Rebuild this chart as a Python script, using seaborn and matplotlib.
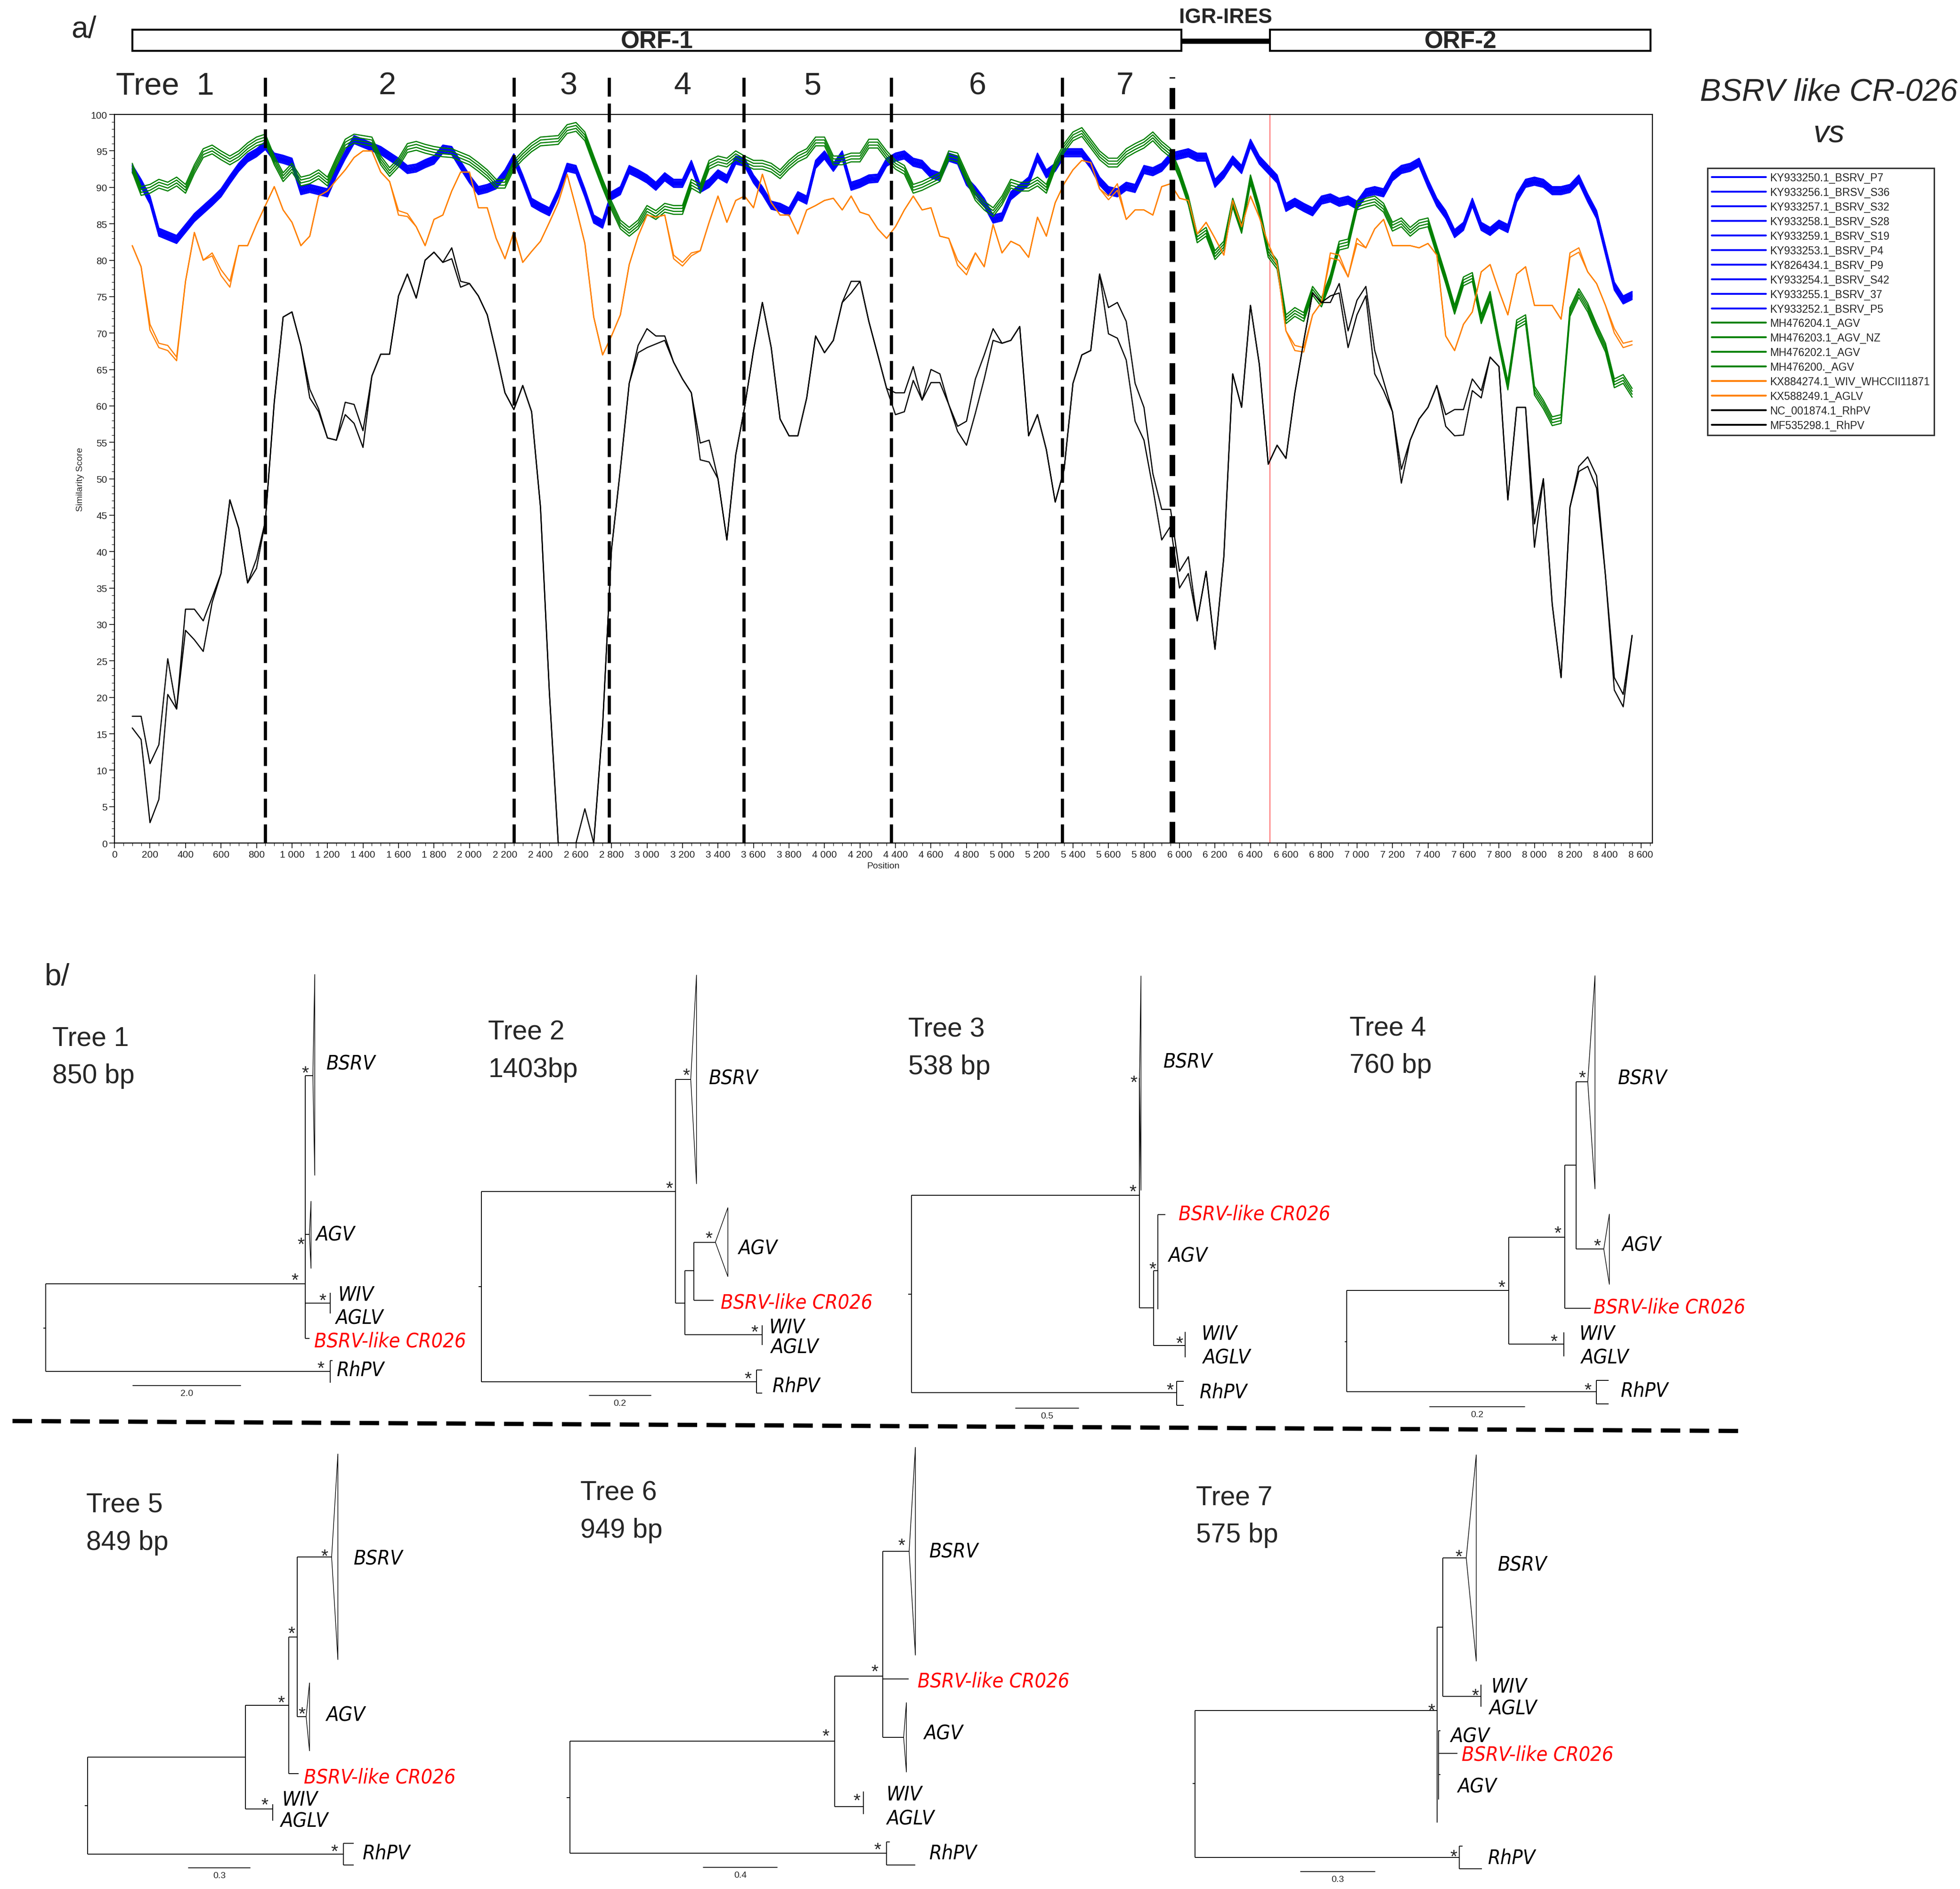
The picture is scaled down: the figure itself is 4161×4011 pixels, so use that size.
import numpy as np
import pandas as pd
import matplotlib
matplotlib.use("Agg")
import matplotlib.pyplot as plt
import matplotlib.transforms as mtransforms
from matplotlib.patches import Rectangle, Polygon
from matplotlib.lines import Line2D
import seaborn as sns

sns.set_style("white")
NARROW = ['Liberation Sans Narrow', 'Liberation Sans', 'DejaVu Sans']
plt.rcParams['font.family'] = NARROW

# layout grid: a 1568 x 1512 preview of the figure
W, H = 1568.0, 1512.0


def fx(x):
    return x / W


def fy(y):
    return 1 - y / H


# ---------------- panel a data ----------------
positions = list(range(100, 8551, 50))

blue_bsrv = [
    92.5, 90.5, 88.2, 83.8, 83.3, 82.8, 84.3, 85.8, 86.9, 88.0,
    89.2, 91.0, 92.7, 94.0, 94.7, 95.7, 94.1, 93.8, 93.4, 89.5,
    89.8, 89.5, 89.2, 92.0, 94.4, 96.5, 96.0, 95.5, 95.0, 94.2,
    93.4, 92.4, 92.6, 93.2, 93.7, 95.2, 95.0, 93.0, 91.1, 89.5,
    89.8, 90.3, 91.8, 94.0, 91.1, 87.9, 87.2, 86.6, 89.2, 92.7,
    92.4, 89.2, 85.6, 84.9, 88.8, 89.5, 92.4, 91.8, 91.1, 90.1,
    91.4, 90.5, 90.5, 93.1, 89.8, 90.5, 91.8, 91.1, 93.7, 93.4,
    91.1, 89.5, 87.5, 87.2, 86.6, 88.8, 88.2, 93.1, 94.4, 92.7,
    94.4, 90.1, 90.5, 91.1, 91.2, 93.4, 94.1, 94.4, 93.4, 93.1,
    91.8, 91.4, 94.1, 93.7, 90.8, 89.5, 87.9, 85.6, 85.9, 88.8,
    89.8, 90.8, 94.1, 91.8, 92.7, 94.7, 94.7, 94.7, 93.1, 90.8,
    89.5, 89.2, 90.1, 89.8, 92.4, 92.1, 92.7, 94.1, 94.4, 94.7,
    94.1, 94.1, 90.5, 91.8, 93.7, 92.4, 96.0, 93.7, 92.4, 91.1,
    87.2, 87.9, 87.2, 86.6, 88.2, 88.5, 87.9, 88.2, 87.5, 89.2,
    89.5, 89.2, 91.4, 92.4, 92.7, 93.4, 90.5, 87.9, 86.2, 83.6,
    84.6, 87.9, 84.6, 83.9, 84.9, 84.3, 88.5, 90.5, 90.8, 90.5,
    89.5, 89.5, 89.8, 91.1, 88.5, 86.2, 81.3, 76.4, 74.5, 75.1,
]
blue_spread = [0.5, 0.35, 0.2, 0.1, 0.0, -0.1, -0.2, -0.35, 0.6, -0.5]

green_agv = [
    92.7, 89.5, 89.8, 90.5, 90.1, 90.8, 89.8, 92.5, 94.7, 95.2,
    94.4, 93.7, 94.4, 95.5, 96.3, 96.7, 93.7, 91.4, 92.7, 90.8,
    91.1, 91.8, 90.8, 93.5, 96.0, 96.7, 96.5, 96.3, 93.7, 92.1,
    93.4, 95.4, 95.7, 95.3, 95.0, 94.8, 94.7, 94.2, 93.7, 92.8,
    91.8, 90.5, 90.5, 93.1, 94.4, 95.5, 96.3, 96.4, 96.5, 98.0,
    98.3, 97.0, 93.7, 90.5, 87.5, 84.9, 83.9, 84.9, 86.9, 86.2,
    87.2, 86.9, 86.9, 90.5, 89.8, 93.1, 93.7, 93.4, 94.4, 93.7,
    93.1, 93.1, 92.7, 91.8, 93.1, 94.1, 94.7, 96.3, 96.3, 93.7,
    93.7, 94.1, 94.1, 96.0, 96.0, 94.4, 93.1, 92.4, 89.8, 90.2,
    90.8, 91.4, 94.4, 94.1, 91.4, 88.8, 87.5, 86.6, 88.2, 90.5,
    90.1, 90.1, 90.8, 89.8, 93.1, 95.4, 97.0, 97.6, 96.0, 94.4,
    93.4, 93.4, 94.7, 95.4, 96.0, 97.0, 95.7, 94.7, 91.8, 88.2,
    83.0, 83.9, 80.7, 82.0, 87.9, 84.3, 91.1, 86.9, 81.0, 79.4,
    71.9, 72.9, 72.2, 75.8, 74.2, 77.4, 82.0, 82.3, 87.5, 87.9,
    88.2, 87.2, 84.6, 85.2, 83.9, 84.9, 85.2, 81.3, 77.4, 73.2,
    77.1, 77.7, 71.9, 75.1, 68.6, 62.8, 71.2, 71.9, 62.1, 60.2,
    57.9, 58.2, 72.9, 75.5, 73.5, 70.6, 68.0, 63.1, 63.7, 61.8,
]
green_spread = [0.6, 0.2, -0.2, -0.6]

orange_wiv = [
    82.0, 79.1, 71.2, 68.6, 68.3, 66.7, 77.1, 83.8, 80.0, 81.0,
    78.7, 77.1, 82.0, 82.0, 84.9, 87.5, 90.1, 86.9, 85.2, 82.0,
    83.3, 88.8, 89.5, 91.0, 92.4, 94.1, 95.0, 95.0, 92.1, 90.8,
    86.2, 86.0, 84.6, 82.0, 85.6, 86.2, 89.5, 92.1, 92.1, 87.2,
    87.2, 83.0, 80.2, 83.9, 79.7, 81.2, 82.6, 85.2, 87.9, 91.8,
    87.2, 82.3, 72.2, 67.0, 69.6, 72.5, 79.4, 83.3, 86.2, 85.9,
    86.2, 80.7, 79.7, 81.0, 81.3, 85.2, 88.8, 85.2, 88.2, 88.8,
    87.2, 91.8, 87.9, 86.2, 86.2, 83.6, 86.9, 87.5, 88.2, 88.5,
    86.9, 88.8, 86.6, 86.2, 84.3, 83.0, 84.6, 86.9, 88.8, 86.9,
    87.2, 83.3, 83.0, 80.0, 78.7, 81.0, 79.1, 84.9, 81.0, 82.6,
    82.0, 80.4, 85.9, 83.3, 87.9, 90.5, 92.4, 93.7, 93.4, 89.8,
    88.8, 90.5, 85.6, 86.9, 86.9, 86.2, 90.1, 90.5, 88.5, 88.2,
    83.6, 85.2, 83.0, 80.7, 88.2, 84.6, 88.8, 85.9, 82.3, 79.4,
    70.3, 68.3, 68.0, 72.5, 74.2, 81.0, 80.7, 77.7, 83.0, 81.7,
    84.3, 85.6, 82.0, 82.0, 82.0, 81.7, 82.3, 80.7, 69.6, 67.6,
    71.2, 72.9, 78.4, 79.4, 75.8, 72.5, 78.1, 79.1, 73.8, 73.8,
    73.8, 71.9, 81.0, 81.7, 78.4, 76.8, 73.8, 70.6, 68.6, 68.9,
]
orange_aglv = [
    82.0, 79.1, 70.4, 68.0, 67.6, 66.2, 77.1, 83.8, 80.0, 80.6,
    77.9, 76.3, 82.0, 82.0, 84.9, 87.5, 90.1, 86.9, 85.2, 82.0,
    83.3, 88.8, 89.5, 91.0, 92.4, 94.1, 95.0, 95.0, 92.1, 90.8,
    86.8, 86.4, 84.6, 82.0, 85.6, 86.2, 89.5, 92.1, 92.1, 87.2,
    87.2, 83.0, 80.2, 83.9, 79.7, 81.2, 82.6, 85.2, 87.9, 91.8,
    87.2, 82.3, 72.2, 67.0, 69.6, 72.5, 79.4, 83.3, 86.2, 85.9,
    86.2, 80.2, 79.2, 80.6, 81.3, 85.2, 88.8, 85.2, 88.2, 88.8,
    87.2, 91.8, 87.9, 86.2, 86.2, 83.6, 86.9, 87.5, 88.2, 88.5,
    86.9, 88.8, 86.6, 86.2, 84.3, 83.0, 84.6, 86.9, 88.8, 86.9,
    87.2, 83.3, 83.0, 79.3, 78.0, 81.0, 79.1, 84.9, 81.0, 82.6,
    82.0, 80.4, 85.9, 83.3, 87.9, 90.5, 92.4, 93.7, 93.4, 89.8,
    88.3, 89.6, 85.6, 86.9, 86.9, 86.2, 90.1, 90.5, 88.5, 88.2,
    83.6, 85.2, 83.0, 80.7, 88.2, 84.6, 88.8, 85.9, 82.3, 79.4,
    70.3, 67.6, 67.4, 72.5, 74.2, 80.3, 80.0, 77.7, 82.3, 81.7,
    84.3, 85.6, 82.0, 82.0, 82.0, 81.7, 82.3, 80.7, 69.6, 67.6,
    71.2, 72.9, 78.4, 79.4, 75.8, 72.5, 78.1, 79.1, 73.8, 73.8,
    73.8, 71.9, 80.4, 81.1, 78.4, 76.8, 73.8, 70.0, 68.0, 68.4,
]

black_nc = [
    17.4, 17.4, 10.9, 13.5, 25.3, 18.4, 32.1, 32.1, 30.5, 33.7,
    37.0, 47.1, 43.2, 35.7, 39.0, 44.2, 60.5, 72.2, 72.9, 68.3,
    61.1, 59.2, 55.6, 55.3, 60.5, 60.2, 56.6, 64.1, 67.1, 67.1,
    75.1, 78.1, 74.8, 80.0, 81.1, 79.7, 81.7, 77.1, 76.8, 75.1,
    72.5, 67.3, 61.8, 59.5, 62.8, 59.2, 46.1, 20.7, 0.0, 0.0,
    0.0, 4.7, 0.0, 16.1, 40.3, 51.3, 63.1, 68.3, 70.6, 69.6,
    69.6, 66.0, 63.7, 61.8, 54.9, 55.3, 50.0, 41.6, 53.3, 59.8,
    67.6, 74.2, 68.0, 58.2, 55.9, 55.9, 61.1, 69.6, 67.3, 69.0,
    74.2, 77.1, 77.1, 71.6, 67.0, 62.4, 61.8, 61.8, 65.4, 60.8,
    65.0, 64.4, 60.2, 57.2, 57.9, 63.7, 67.0, 70.6, 68.6, 69.0,
    70.9, 55.9, 58.8, 54.0, 46.8, 51.3, 63.1, 67.0, 67.6, 78.1,
    73.5, 74.2, 71.6, 63.1, 59.8, 50.7, 45.8, 45.8, 37.3, 39.3,
    30.5, 37.3, 26.6, 39.3, 64.4, 59.8, 73.8, 65.7, 52.0, 54.6,
    52.8, 61.8, 68.9, 75.5, 74.2, 74.2, 76.8, 70.3, 74.5, 76.4,
    67.6, 63.4, 59.2, 51.3, 55.3, 58.2, 59.8, 62.8, 58.8, 59.5,
    59.5, 63.7, 62.1, 66.7, 65.4, 47.1, 59.8, 59.8, 43.8, 50.0,
    32.8, 22.7, 46.1, 51.7, 53.0, 50.4, 36.7, 22.7, 20.4, 28.5,
]
black_mf = [
    15.8, 14.2, 2.8, 6.0, 20.4, 18.4, 29.2, 27.9, 26.3, 33.0,
    37.0, 47.1, 43.2, 35.7, 37.7, 44.2, 60.5, 72.2, 72.9, 68.3,
    62.3, 59.6, 55.6, 55.3, 58.8, 57.6, 54.3, 64.1, 67.1, 67.1,
    75.1, 78.1, 74.8, 80.0, 81.1, 79.7, 80.2, 76.3, 76.8, 75.1,
    72.5, 67.3, 61.8, 59.5, 62.8, 59.2, 46.1, 20.7, 0.0, 0.0,
    0.0, 0.0, 0.0, 16.1, 40.3, 51.3, 63.1, 67.3, 68.0, 68.5,
    69.0, 66.0, 63.7, 61.8, 52.6, 52.3, 50.0, 41.6, 53.3, 59.8,
    67.6, 74.2, 68.0, 58.2, 55.9, 55.9, 61.1, 69.6, 67.3, 69.0,
    74.2, 75.5, 77.1, 71.6, 67.0, 62.4, 58.8, 59.2, 63.5, 60.8,
    63.2, 63.2, 60.2, 56.5, 54.6, 59.0, 63.7, 69.0, 68.6, 69.0,
    70.9, 55.9, 58.8, 54.0, 46.8, 51.3, 63.1, 67.0, 67.6, 78.1,
    69.9, 69.3, 66.3, 57.9, 55.3, 48.7, 41.6, 43.5, 35.0, 37.0,
    30.5, 37.3, 26.6, 39.3, 64.4, 59.8, 73.8, 65.7, 52.0, 54.6,
    52.8, 61.8, 68.9, 75.5, 74.2, 75.1, 75.5, 68.0, 72.5, 75.1,
    64.4, 62.1, 59.2, 49.4, 55.3, 58.2, 59.8, 62.8, 57.2, 55.9,
    56.0, 62.1, 61.1, 66.7, 65.4, 47.1, 59.8, 59.8, 40.6, 50.0,
    32.8, 22.7, 46.1, 51.0, 51.7, 48.7, 36.7, 21.0, 18.7, 28.5,
]

blue_names = ["KY933250.1_BSRV_P7", "KY933256.1_BRSV_S36", "KY933257.1_BSRV_S32",
              "KY933258.1_BSRV_S28", "KY933259.1_BSRV_S19", "KY933253.1_BSRV_P4",
              "KY826434.1_BSRV_P9", "KY933254.1_BSRV_S42", "KY933255.1_BSRV_37",
              "KY933252.1_BSRV_P5"]
green_names = ["MH476204.1_AGV", "MH476203.1_AGV_NZ", "MH476202.1_AGV", "MH476200._AGV"]
orange_names = ["KX884274.1_WIV_WHCCII11871", "KX588249.1_AGLV"]
black_names = ["NC_001874.1_RhPV", "MF535298.1_RhPV"]

tree_bounds = [850, 2250, 2785, 3545, 4376, 5340, 5960]
tree_labels = ["Tree  1", "2", "3", "4", "5", "6", "7"]
tree_label_x = [284, 1538, 2558, 3200, 3932, 4862, 5693]
orf_regions = [("ORF-1", 100, 6010), ("ORF-2", 6510, 8655)]
igr_region = ("IGR-IRES", 6010, 6510)

# ---------------- panel b data (trees, preview px) ----------------
RED = "#ff0000"
CR = "BSRV-like CR026"
trees = [
    dict(title=(42, 829.3, "Tree 1", "850 bp"),
         h=[(34.5, 36.5, 1063), (36.5, 244.3, 1027.6), (36.5, 264, 1098), (244.3, 250.3, 861.3),
            (244.3, 247.5, 988), (244.3, 264, 1043), (244.3, 247.5, 1071.3), (264, 266, 1089)],
         v=[(36.5, 1027.6, 1098), (244.3, 861.3, 1071.3), (264, 1035, 1051.6), (264, 1089, 1107)],
         tri=[(250.3, 861.3, 251.8, 780, 941), (247.5, 988, 248.8, 961.5, 1015.5)],
         stars=[(236, 1021.5), (244.3, 855.7), (240.7, 992.7), (258, 1037.7), (256.7, 1092)],
         labels=[(261, 849.7, "BSRV", "k"), (252.5, 986.7, "AGV", "k"), (270.4, 1034.8, "WIV", "k"),
                 (268.5, 1053.5, "AGLV", "k"), (251.2, 1072, CR, RED), (269.5, 1095, "RhPV", "k")],
         scale=(106.4, 192.7, 1109.3, "2.0")),
    dict(title=(390.5, 824.5, "Tree 2", "1403bp"),
         h=[(383, 385, 1030), (385, 540.3, 953.8), (385, 605.1, 1106.1), (540.3, 552.6, 864),
            (540.3, 548, 1043.2), (548, 554.9, 1017.2), (554.9, 572.3, 994.4), (554.9, 570.9, 1040.8),
            (548, 609.7, 1068.4), (605.1, 609.7, 1096.8), (605.1, 609.7, 1115.3)],
         v=[(385, 953.8, 1106.1), (540.3, 864, 1043.2), (548, 1017.2, 1068.4), (554.9, 994.4, 1040.8),
            (609.7, 1060.7, 1076.8), (605.1, 1096.8, 1115.3)],
         tri=[(552.6, 864, 557.2, 780.5, 947.8), (572.3, 994.4, 582.3, 966.7, 1022)],
         stars=[(535.3, 947.8), (549, 857.4), (567.2, 988), (603.8, 1063.1), (598.3, 1100.4)],
         labels=[(567.2, 861.7, "BSRV", "k"), (590.5, 997.5, "AGV", "k"), (576.4, 1040.8, CR, RED),
                 (615.2, 1060.7, "WIV", "k"), (616.5, 1076.8, "AGLV", "k"), (618, 1108, "RhPV", "k")],
         scale=(471.3, 520.6, 1117.2, "0.2")),
    dict(title=(726.7, 822.1, "Tree 3", "538 bp"),
         h=[(726.7, 729, 1036), (729, 911.6, 956.7), (729, 941.3, 1114.8), (911.6, 923, 1046.8),
            (923, 926.3, 1017.2), (926.3, 932.2, 972.3), (923, 948.2, 1077),
            (941.3, 947, 1105.6), (941.3, 947, 1124.9)],
         v=[(729, 956.7, 1114.8), (911.6, 863, 1046.8), (923, 1017.2, 1077), (926.3, 972.3, 1048),
            (948.2, 1066, 1086.4), (941.3, 1105.6, 1124.9)],
         tri=[(911.6, 863, 912.8, 781.2, 953)],
         stars=[(906.2, 950.7), (907, 863), (922.1, 1012.6), (943.6, 1072), (935.9, 1109.2)],
         labels=[(930.8, 848.5, "BSRV", "k"), (942.7, 969.9, CR, RED), (934.5, 1003.5, "AGV", "k"),
                 (961, 1066, "WIV", "k"), (962, 1085.2, "AGLV", "k"), (959.6, 1112.9, "RhPV", "k")],
         scale=(812.5, 862.8, 1127.3, "0.5")),
    dict(title=(1079.7, 820.9, "Tree 4", "760 bp"),
         h=[(1076, 1077.4, 1074), (1077.4, 1207.1, 1033), (1077.4, 1277, 1114), (1207.1, 1251.9, 990.3),
            (1251.9, 1261, 932.9), (1261, 1270.2, 866.1), (1261, 1283, 999.9), (1251.9, 1272.5, 1047.3),
            (1207.1, 1251, 1076.1), (1277, 1287, 1105), (1277, 1287, 1123.7)],
         v=[(1077.4, 1033, 1114), (1207.1, 990.3, 1076.1), (1251.9, 932.9, 1047.3), (1261, 866.1, 999.9),
            (1251, 1066.7, 1085.7), (1277, 1105, 1123.7)],
         tri=[(1270.2, 866.1, 1276, 781, 951.9), (1283, 999.9, 1287.5, 971.8, 1028.3)],
         stars=[(1201.2, 1027), (1246, 983.8), (1265.6, 859.3), (1278, 993.9), (1243.2, 1070.3), (1270.2, 1109.2)],
         labels=[(1294.4, 861.7, "BSRV", "k"), (1297.6, 995.1, "AGV", "k"), (1274.7, 1044.8, CR, RED),
                 (1263.3, 1066, "WIV", "k"), (1264.7, 1085.2, "AGLV", "k"), (1296.6, 1111.6, "RhPV", "k")],
         scale=(1143.6, 1219.9, 1126, "0.2")),
    dict(title=(69.1, 1202.6, "Tree 5", "849 bp"),
         h=[(68, 70.2, 1445.3), (70.2, 196.2, 1406.4), (70.2, 274.7, 1484.3), (196.2, 231, 1365),
            (231, 237.7, 1310.4), (237.7, 265.3, 1246.4), (237.7, 244.9, 1374.1), (231, 238.8, 1419.8),
            (196.2, 218.3, 1447.8), (274.7, 283, 1475.3), (274.7, 283, 1492.8)],
         v=[(70.2, 1406.4, 1484.3), (196.2, 1365, 1447.8), (231, 1310.4, 1419.8), (237.7, 1246.4, 1374.1),
            (218.3, 1444, 1457.5), (274.7, 1475.3, 1492.8)],
         tri=[(265.3, 1246.4, 270.3, 1163.7, 1328.6), (244.9, 1374.1, 247.6, 1346.9, 1401.6)],
         stars=[(225, 1359.7), (233.2, 1304.3), (259.8, 1242.3), (241.5, 1368.7), (211.7, 1441.2), (267.5, 1478.7)],
         labels=[(283, 1245.9, "BSRV", "k"), (260.9, 1371.2, "AGV", "k"), (243.2, 1421, CR, RED),
                 (225.5, 1438.8, "WIV", "k"), (224.4, 1455.8, "AGLV", "k"), (290.2, 1481.8, "RhPV", "k")],
         scale=(150.9, 200.1, 1495.2, "0.3")),
    dict(title=(464.3, 1192.9, "Tree 6", "949 bp"),
         h=[(453.2, 456, 1438.8), (456, 667.7, 1393.8), (456, 709.1, 1483.5), (667.7, 706.3, 1341.5),
            (706.3, 727.3, 1241.8), (706.3, 726.8, 1343.9), (706.3, 722.9, 1390.6), (667.7, 690.9, 1446.1),
            (709.1, 732, 1492.8), (709.1, 712, 1474.5)],
         v=[(456, 1393.8, 1483.5), (667.7, 1341.5, 1446.1), (706.3, 1241.8, 1390.6), (690.9, 1434, 1452),
            (709.1, 1474.5, 1492.8)],
         tri=[(727.3, 1241.8, 732.3, 1158.4, 1325), (722.9, 1390.6, 725.1, 1362.7, 1418.6)],
         stars=[(660.5, 1386.2), (699.7, 1334.7), (721.3, 1233.8), (685.4, 1438), (702, 1477)],
         labels=[(743.4, 1240.3, "BSRV", "k"), (734, 1343.9, CR, RED), (739, 1385.8, "AGV", "k"),
                 (709.1, 1434.4, "WIV", "k"), (709.1, 1453.9, "AGLV", "k"), (743.4, 1481.8, "RhPV", "k")],
         scale=(562.6, 621.8, 1494.7, "0.4")),
    dict(title=(956.7, 1196.6, "Tree 7", "575 bp"),
         h=[(954.2, 956, 1427.6), (956, 1149.6, 1369.2), (956, 1167.6, 1486.7), (1149.6, 1154.3, 1302.4),
            (1154.3, 1173, 1247.1), (1154.3, 1184.9, 1357.8), (1150.7, 1152.2, 1385.3),
            (1150.7, 1165.8, 1403.5), (1150.7, 1152.2, 1420.5), (1167.6, 1185.6, 1495.7), (1167.6, 1170, 1477.7)],
         v=[(956, 1369.2, 1486.7), (1149.6, 1302.4, 1458.7), (1154.3, 1247.1, 1357.8), (1150.7, 1385.3, 1440.5),
            (1184.9, 1348.6, 1366.3), (1167.6, 1477.7, 1495.7)],
         tri=[(1173, 1247.1, 1181, 1164.4, 1329.8)],
         stars=[(1145.3, 1365.8), (1166.9, 1242.8), (1180.2, 1353.7), (1163, 1482.6)],
         labels=[(1198.3, 1250.8, "BSRV", "k"), (1192.9, 1348.1, "WIV", "k"), (1191, 1365.8, "AGLV", "k"),
                 (1160.4, 1388.2, "AGV", "k"), (1169.4, 1402.8, CR, RED), (1165.8, 1428.3, "AGV", "k"),
                 (1190.3, 1485.5, "RhPV", "k")],
         scale=(1040.4, 1099.8, 1498.1, "0.3")),
]

# ---------------- figure ----------------
fig = plt.figure(figsize=(41.61, 40.12), dpi=100)
ax = fig.add_axes([fx(91.6), fy(675), (1322 - 91.6) / W, (675 - 92) / H])

rows = []
palette = {}
for name, off in zip(blue_names, blue_spread):
    palette[name] = "#0000ff"
    rows += [(name, p, v + off) for p, v in zip(positions, blue_bsrv)]
for name, off in zip(green_names, green_spread):
    palette[name] = "#008000"
    rows += [(name, p, v + off) for p, v in zip(positions, green_agv)]
for name, vals in zip(orange_names, [orange_wiv, orange_aglv]):
    palette[name] = "#ff8000"
    rows += [(name, p, v) for p, v in zip(positions, vals)]
for name, vals in zip(black_names, [black_nc, black_mf]):
    palette[name] = "#000000"
    rows += [(name, p, v) for p, v in zip(positions, vals)]
df = pd.DataFrame(rows, columns=["Sequence", "Position", "Similarity Score"])
names = blue_names + green_names + orange_names + black_names

sns.lineplot(data=df, x="Position", y="Similarity Score", hue="Sequence", hue_order=names,
             palette=palette, estimator=None, sort=False, linewidth=1.8, legend=False, ax=ax)

ax.set_xlim(0, 8665)
ax.set_ylim(0, 100)
ax.set_xticks(range(0, 8601, 200))
ax.set_xticklabels([f"{v:,}".replace(",", " ") for v in range(0, 8601, 200)])
ax.set_xticks(range(0, 8651, 50), minor=True)
ax.set_yticks(range(0, 101, 5))
ax.set_yticks(range(0, 101, 1), minor=True)
ax.tick_params(which="both", bottom=True, left=True, direction="out", color="#333333")
ax.tick_params(which="major", length=8, width=1.4, labelsize=15, labelcolor="#222222", pad=3)
ax.tick_params(which="minor", length=4, width=1.0)
for s in ax.spines.values():
    s.set_color("black")
    s.set_linewidth(1.6)
ax.set_xlabel("Position", fontsize=14, labelpad=4)
ax.set_ylabel("Similarity Score", fontsize=14, labelpad=10)

ax.axvline(6510, color="#ff5a5a", lw=1.3, zorder=1)
ax.vlines(tree_bounds[:-1], 0, 105.1, colors="black", linewidth=4.8,
          linestyles=[(0, (6, 2.2))], clip_on=False, zorder=6)
ax.vlines(tree_bounds[-1:], 0, 105.1, colors="black", linewidth=8.5,
          linestyles=[(0, (3.8, 1.7))], clip_on=False, zorder=6)

trans = mtransforms.blended_transform_factory(ax.transData, ax.transAxes)
for label, x0, x1 in orf_regions:
    ax.add_patch(Rectangle((x0, 1.0875), x1 - x0, 0.0291, transform=trans, fill=False,
                           lw=3, edgecolor="black", clip_on=False))
    ax.text((x0 + x1) / 2, 1.1005, label, transform=trans, ha="center", va="center",
            fontsize=37, fontweight="bold")
ax.plot([igr_region[1], igr_region[2]], [1.1012, 1.1012], transform=trans, color="black",
        lw=8, solid_capstyle="butt", clip_on=False)
ax.text((igr_region[1] + igr_region[2]) / 2, 1.1338, igr_region[0], transform=trans,
        ha="center", va="center", fontsize=32, fontweight="bold")
for x, lab in zip(tree_label_x, tree_labels):
    ax.text(x, 1.0395, lab, transform=trans, ha="center", va="center", fontsize=48)

fig.text(fx(1463), fy(80.6), "BSRV like CR-026", ha="center", va="baseline",
         fontsize=48, style="italic")
fig.text(fx(1463), fy(114), "vs", ha="center", va="baseline", fontsize=48, style="italic")
fig.text(fx(57), fy(30), "a/", ha="left", va="baseline", fontsize=46)
fig.text(fx(35.6), fy(788.4), "b/", ha="left", va="baseline", fontsize=46)

handles = [Line2D([], [], color=palette[n], lw=2.8) for n in names]
leg = fig.legend(handles, names, loc="upper left", bbox_to_anchor=(fx(1366), fy(135)),
                 frameon=True, fancybox=False, edgecolor="black", fontsize=16.5,
                 handlelength=5.0, handletextpad=0.35, labelspacing=0.345,
                 borderpad=0.4, borderaxespad=0)
leg.get_frame().set_linewidth(2.2)

# ---------------- panel b: trees ----------------
ov = fig.add_axes([0, 0, 1, 1])
ov.set_xlim(0, W)
ov.set_ylim(H, 0)
ov.axis("off")
ov.patch.set_visible(False)

LW = 1.3
for t in trees:
    tx, ty, line1, line2 = t["title"]
    ov.text(tx, ty + 7.5, line1, fontsize=41, va="baseline", ha="left")
    ov.text(tx, ty + 37.5, line2, fontsize=41, va="baseline", ha="left")
    for x0, x1, y in t["h"]:
        ov.plot([x0, x1], [y, y], color="black", lw=LW, solid_capstyle="butt")
    for x, y0, y1 in t["v"]:
        ov.plot([x, x], [y0, y1], color="black", lw=LW, solid_capstyle="butt")
    for axx, ayy, bx, yt, yb in t["tri"]:
        ov.add_patch(Polygon([(axx, ayy), (bx, yt), (bx, yb)], closed=True, fill=False,
                             edgecolor="black", lw=1.0))
    for sx, sy in t["stars"]:
        ov.text(sx, sy + 7.5, "*", fontsize=28, ha="center", va="baseline")
    for lx, ly, txt, col in t["labels"]:
        ov.text(lx, ly + 6.2, txt, fontsize=31, style="italic", color=col, ha="left",
                va="baseline", family=["DejaVu Sans"], fontstretch="condensed")
    x0, x1, y, txt = t["scale"]
    ov.plot([x0, x1], [y, y], color="black", lw=1.2)
    ov.text((x0 + x1) / 2, y + 3, txt, fontsize=14, ha="center", va="top")

ov.plot([10, 1395], [1137.5, 1145.5], color="black", lw=6.5, linestyle=(0, (4.6, 2.2)))

fig.savefig("out.png", dpi=100, facecolor="white")
